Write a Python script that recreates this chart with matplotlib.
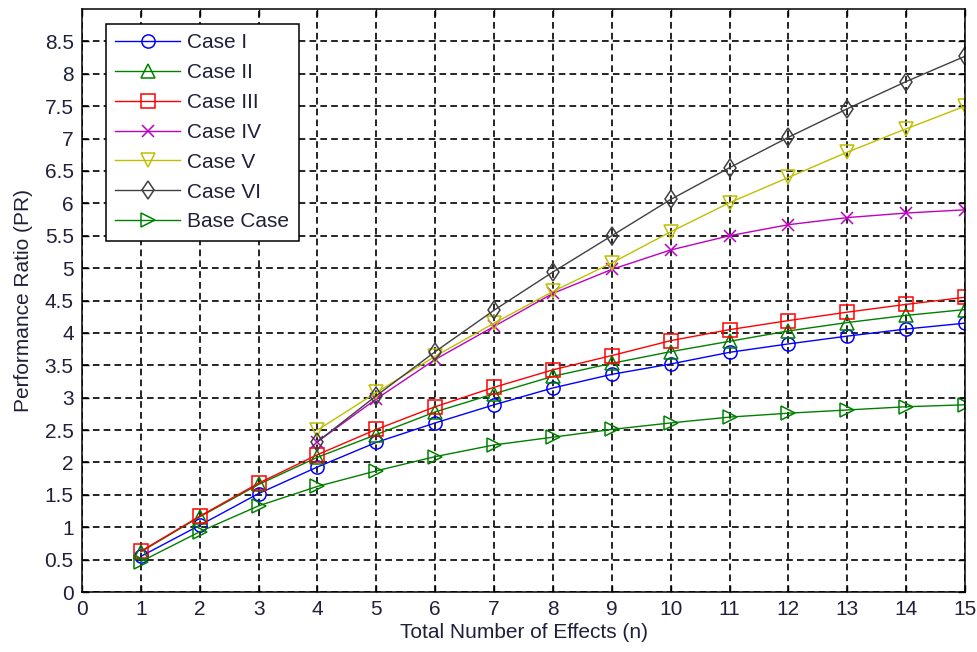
import matplotlib.pyplot as plt
import numpy as np

plt.rcParams['font.family'] = ['Liberation Sans', 'DejaVu Sans']

n_all = np.arange(1, 16)
n_late = np.arange(4, 16)

case_1 = [0.55, 1.03, 1.52, 1.93, 2.31, 2.61, 2.89, 3.15, 3.36, 3.52, 3.70, 3.83, 3.95, 4.06, 4.15]
case_2 = [0.62, 1.16, 1.66, 2.08, 2.43, 2.78, 3.06, 3.33, 3.53, 3.71, 3.87, 4.03, 4.16, 4.27, 4.36]
case_3 = [0.63, 1.17, 1.68, 2.12, 2.51, 2.86, 3.16, 3.43, 3.65, 3.88, 4.05, 4.19, 4.32, 4.44, 4.55]
case_4 = [2.32, 2.98, 3.59, 4.10, 4.61, 4.98, 5.28, 5.50, 5.67, 5.78, 5.85, 5.90]
case_5 = [2.50, 3.08, 3.64, 4.15, 4.64, 5.08, 5.56, 6.01, 6.40, 6.79, 7.15, 7.50]
case_6 = [2.32, 3.03, 3.71, 4.35, 4.94, 5.50, 6.06, 6.55, 7.02, 7.46, 7.88, 8.27]
base_case = [0.47, 0.93, 1.33, 1.63, 1.87, 2.09, 2.27, 2.39, 2.51, 2.61, 2.70, 2.76, 2.81, 2.86, 2.89]

fs = 15
txt = '#20203a'

fig = plt.figure(figsize=(9.77, 6.52), dpi=100)
ax = fig.add_axes([82/977, 60/652, 883/977, 583/652])

style = dict(lw=1.0, ms=9.5, mew=1.1, fillstyle='none')
ax.plot(n_all, case_1, color='#0000ff', marker='o', label='Case I', **style)
ax.plot(n_all, case_2, color='#008000', marker='^', label='Case II', **style)
ax.plot(n_all, case_3, color='#ff0000', marker='s', label='Case III', **style)
ax.plot(n_late, case_4, color='#c000c0', marker='x', label='Case IV',
        **dict(style, ms=8))
ax.plot(n_late, case_5, color='#bfbf00', marker='v', label='Case V', **style)
ax.plot(n_late, case_6, color='#404040', marker='d', label='Case VI', **style)
ax.plot(n_all, base_case, color='#008000', marker='>', label='Base Case', **style)

ax.set_xlim(0, 15)
ax.set_ylim(0, 9)
ax.set_xticks(np.arange(0, 16, 1))
ax.set_yticks(np.arange(0, 8.51, 0.5))
ax.set_yticklabels([f'{v:g}' for v in np.arange(0, 8.51, 0.5)])

ax.grid(True, color='black', lw=1.2, linestyle=(0, (4, 2.5)))
ax.set_axisbelow(True)
ax.tick_params(direction='in', length=5, width=1.0, top=True, right=True,
               labelsize=fs, labelcolor=txt, pad=6)
for sp in ax.spines.values():
    sp.set_linewidth(1.1)

ax.set_xlabel('Total Number of Effects (n)', fontsize=fs, color=txt, labelpad=3)
ax.set_ylabel('Performance Ratio (PR)', fontsize=fs, color=txt, labelpad=8)

leg = ax.legend(loc='upper left', bbox_to_anchor=(24/883, (592-24)/583),
                borderaxespad=0, fontsize=fs, frameon=True, fancybox=False,
                edgecolor='black', framealpha=1, handlelength=3.1,
                handletextpad=0.35, labelspacing=0.52, borderpad=0.45)
leg.get_frame().set_linewidth(1.1)
for t in leg.get_texts():
    t.set_color(txt)

fig.savefig('out.png', dpi=100)
